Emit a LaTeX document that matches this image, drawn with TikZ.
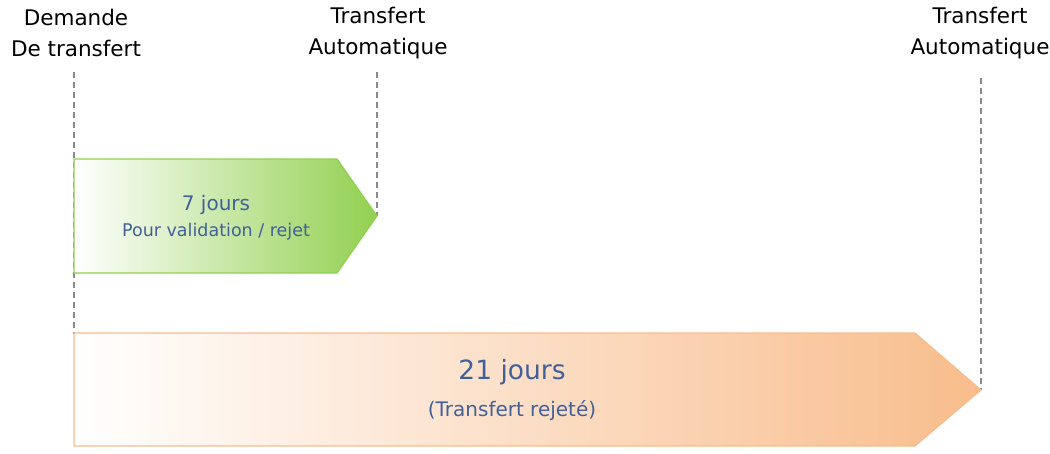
\documentclass[tikz,border=0pt]{standalone}
\usepackage{fontspec}
\setmainfont{DejaVu Sans}
\definecolor{jourgreen}{HTML}{92D050}
\definecolor{jourorange}{HTML}{F8BD8C}
\definecolor{jourtext}{HTML}{41609A}
\definecolor{guidegray}{HTML}{8A8A8A}
\tikzset{
  steplabel/.style={align=center, font=\fontsize{21.5}{31}\selectfont, inner sep=0pt},
  guide/.style={guidegray, line width=1.7pt, dash pattern=on 6pt off 4pt},
  daytext/.style={text=jourtext, inner sep=0pt}
}

\begin{document}
\begin{tikzpicture}[x=1pt, y=-1pt]
  \useasboundingbox (0,0) rectangle (1050,453);

  % labels on top
  \node[steplabel] (dem)  at (76,33)  {Demande\\De transfert};
  \node[steplabel] (auto7)  at (378,33) {Transfert\\Automatique};
  \node[steplabel] (auto21) at (980,33) {Transfert\\Automatique};

  % end points of the guides
  \coordinate (g0) at (74,72);
  \coordinate (g0b) at (74,334);
  \coordinate (g7) at (377,72);
  \coordinate (tip7) at (377,216);
  \coordinate (g21) at (981,78);
  \coordinate (tip21) at (981,390);

  % dashed guides
  \draw[guide] (g0) -- (g0b);
  \draw[guide] (g7) -- (tip7);
  \draw[guide] (g21) -- (tip21);

  % 7 days arrow
  \shadedraw[draw=jourgreen, line width=1.2pt, left color=white, right color=jourgreen]
    (74,159) -- (337,159) -- (tip7) -- (337,273) -- (74,273) -- cycle;
  \node[daytext, font=\fontsize{20}{24}\selectfont] (j7) at (216,205) {7 jours};
  \node[daytext, font=\fontsize{17.5}{21}\selectfont] (val) at (216,232) {Pour validation / rejet};

  % 21 days arrow
  \shadedraw[draw=jourorange, line width=1.2pt, left color=white, right color=jourorange]
    (74,333) -- (915,333) -- (tip21) -- (915,446) -- (74,446) -- cycle;
  \node[daytext, font=\fontsize{26.5}{30}\selectfont] (j21) at (512,372) {21 jours};
  \node[daytext, font=\fontsize{20}{24}\selectfont] (rej) at (512,411) {(Transfert rejeté)};
\end{tikzpicture}
\end{document}
